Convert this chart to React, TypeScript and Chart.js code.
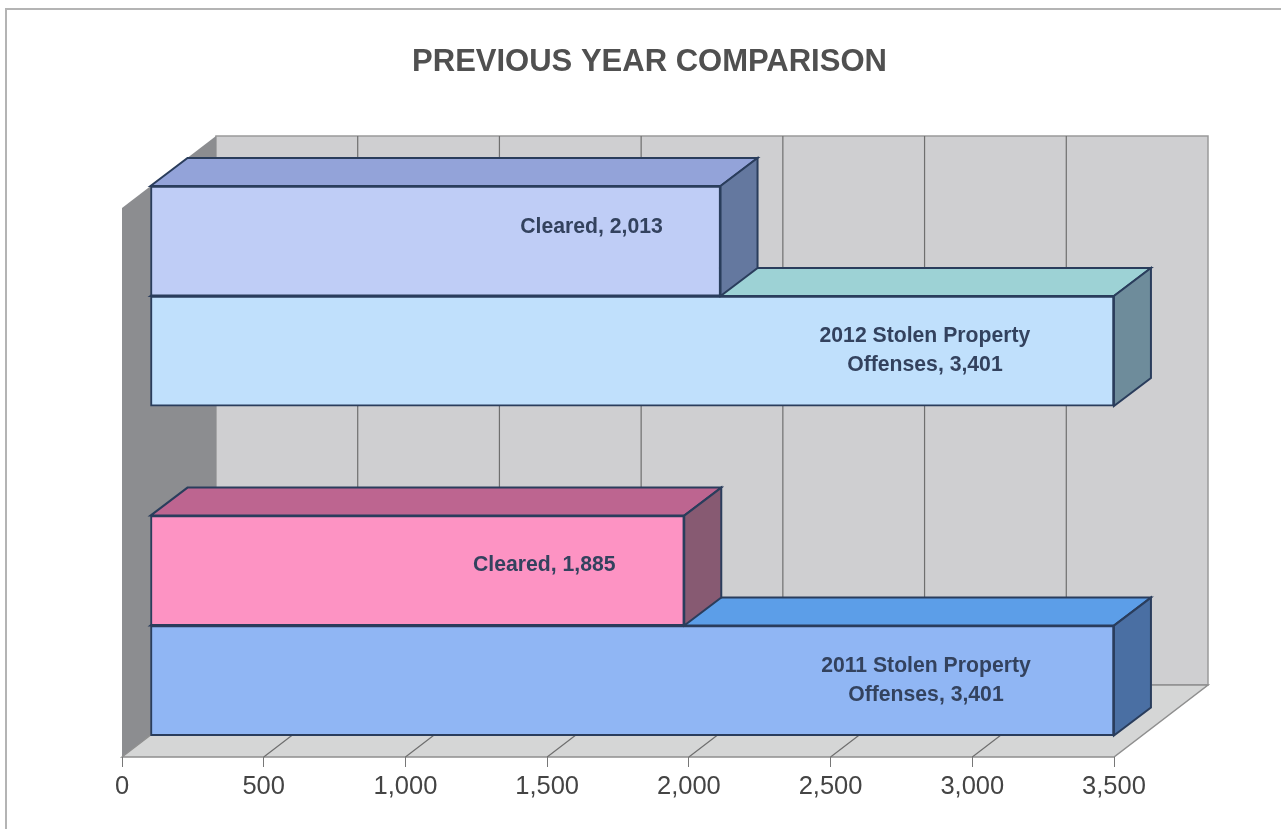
import React, { useEffect, useRef } from "react";
import { Chart, registerables } from "chart.js";

Chart.register(...registerables);

const years = ["2012", "2011"];
const yearSlots = [0, 1];
const clearedValues = [2013, 1885];
const offenseValues = [3401, 3401];
const clearedLabels = [["Cleared, 2,013"], ["Cleared, 1,885"]];
const offenseLabels = [
  ["2012 Stolen Property", "Offenses, 3,401"],
  ["2011 Stolen Property", "Offenses, 3,401"],
];
const titleText = "PREVIOUS YEAR COMPARISON";

const clearedFront = ["#bfcdf6", "#fd93c3"];
const clearedTop = ["#93a3d9", "#bd6590"];
const clearedSide = ["#64789f", "#875a72"];
const offenseFront = ["#c0e0fc", "#90b6f4"];
const offenseTop = ["#9dd2d5", "#5c9ee8"];
const offenseSide = ["#6e8c9b", "#4a6fa3"];
const labelShifts = [
  [{ x: -129, y: -14 }, { x: -140, y: -5 }],
  [{ x: -189, y: 0 }, { x: -188, y: 0 }],
];

const WALL = { dx: 94, dy: -72 };
const BAR_SHIFT = { dx: 28, dy: -22 };
const BAR_DEPTH = { dx: 37, dy: -28 };
const OUTLINE = "#2a3d5c";

function poly(ctx: CanvasRenderingContext2D, pts: number[][], fill: string, stroke?: string, lw = 1) {
  ctx.beginPath();
  pts.forEach((p, i) => (i ? ctx.lineTo(p[0], p[1]) : ctx.moveTo(p[0], p[1])));
  ctx.closePath();
  ctx.fillStyle = fill;
  ctx.fill();
  if (stroke) {
    ctx.strokeStyle = stroke;
    ctx.lineWidth = lw;
    ctx.stroke();
  }
}

const box3d = {
  id: "box3d",
  beforeDraw(chart: any) {
    const { ctx, chartArea: a, scales } = chart;
    const { left: l, right: r, top: t, bottom: b } = a;
    const { dx, dy } = WALL;
    ctx.save();
    ctx.fillStyle = "#ffffff";
    ctx.fillRect(0, 0, chart.width, chart.height);
    ctx.strokeStyle = "#b4b4b4";
    ctx.lineWidth = 2;
    ctx.beginPath();
    ctx.moveTo(6, chart.height);
    ctx.lineTo(6, 9);
    ctx.lineTo(chart.width, 9);
    ctx.stroke();
    poly(ctx, [[l + dx, t + dy], [r + dx, t + dy], [r + dx, b + dy], [l + dx, b + dy]], "#cfcfd1", "#9a9a9a", 1.5);
    poly(ctx, [[l, t], [l + dx, t + dy], [l + dx, b + dy], [l, b]], "#8c8d90");
    poly(ctx, [[l, b], [l + dx, b + dy], [r + dx, b + dy], [r, b]], "#d5d6d6", "#8f8f8f", 1.5);
    ctx.strokeStyle = "#6f6f6f";
    ctx.lineWidth = 1.2;
    scales.x.ticks.forEach((tk: any) => {
      const x = scales.x.getPixelForValue(tk.value);
      ctx.beginPath();
      if (tk.value > 0 && tk.value < 3500) {
        ctx.moveTo(x + dx, t + dy);
        ctx.lineTo(x + dx, b + dy);
        ctx.moveTo(x + dx, b + dy);
        ctx.lineTo(x, b);
      }
      ctx.stroke();
    });
    ctx.restore();
  },
  beforeDatasetDraw(chart: any, args: any) {
    const { ctx } = chart;
    const top = args.index === 0 ? clearedTop : offenseTop;
    const side = args.index === 0 ? clearedSide : offenseSide;
    ctx.save();
    ctx.translate(BAR_SHIFT.dx, BAR_SHIFT.dy);
    args.meta.data.forEach((el: any, i: number) => {
      const p = el.getProps(["x", "y", "base", "height"], true);
      const x0 = p.base, x1 = p.x, y0 = p.y - p.height / 2, y1 = p.y + p.height / 2;
      const { dx, dy } = BAR_DEPTH;
      poly(ctx, [[x0, y0], [x0 + dx, y0 + dy], [x1 + dx, y0 + dy], [x1, y0]], top[i], OUTLINE, 2);
      poly(ctx, [[x1, y0], [x1 + dx, y0 + dy], [x1 + dx, y1 + dy], [x1, y1]], side[i], OUTLINE, 2);
    });
  },
  afterDatasetDraw(chart: any) {
    chart.ctx.restore();
  },
  afterDatasetsDraw(chart: any) {
    const { ctx } = chart;
    ctx.save();
    ctx.font = "bold 21.2px 'Liberation Sans'";
    ctx.fillStyle = "#33425e";
    ctx.textAlign = "center";
    ctx.textBaseline = "middle";
    [clearedLabels, offenseLabels].forEach((set, ds) => {
      chart.getDatasetMeta(ds).data.forEach((el: any, i: number) => {
        const lines = set[i];
        const s = labelShifts[ds][i];
        const cx = el.x + BAR_SHIFT.dx + s.x;
        const cy = el.y + BAR_SHIFT.dy + s.y;
        lines.forEach((ln, k) => ctx.fillText(ln, cx, cy + (k - (lines.length - 1) / 2) * 29));
      });
    });
    ctx.restore();
  },
};

export default function App() {
  const ref = useRef<HTMLCanvasElement>(null);
  useEffect(() => {
    const chart = new Chart(ref.current!, {
      type: "bar",
      data: {
        labels: years,
        datasets: [
          {
            label: "Cleared",
            data: yearSlots.map((y, i) => ({ x: clearedValues[i], y })),
            backgroundColor: clearedFront,
            borderColor: OUTLINE,
            borderWidth: 2,
            borderSkipped: false,
            barThickness: 110,
            clip: false,
          },
          {
            label: "Stolen Property Offenses",
            data: yearSlots.map((y, i) => ({ x: offenseValues[i], y })),
            backgroundColor: offenseFront,
            borderColor: OUTLINE,
            borderWidth: 2,
            borderSkipped: false,
            barThickness: 110,
            clip: false,
          },
        ] as any,
      },
      options: {
        indexAxis: "y",
        responsive: false,
        animation: false,
        layout: { padding: { left: 18, right: 0, top: 0, bottom: 0 } },
        plugins: {
          legend: { display: false },
          tooltip: { enabled: false },
          title: {
            display: true,
            text: titleText,
            color: "#505050",
            font: { family: "'Liberation Sans'", size: 31, weight: "bold", lineHeight: 1.2 },
            padding: { top: 44, bottom: 126.8 },
          },
        },
        scales: {
          x: {
            type: "linear",
            min: 0,
            max: 3500,
            offset: false,
            ticks: {
              stepSize: 500,
              color: "#444444",
              font: { family: "'Liberation Sans'", size: 25.5 },
              padding: 5,
              maxRotation: 0,
              callback: (v: any) => Number(v).toLocaleString("en-US"),
            },
            grid: { drawOnChartArea: false, drawTicks: true, tickLength: 10, color: "#777777", offset: false },
            border: { display: false },
            afterFit: (s: any) => { s.height = 72; },
          },
          y: {
            type: "linear",
            reverse: true,
            min: -0.334,
            max: 1.332,
            offset: false,
            ticks: { display: false },
            grid: { display: false },
            border: { display: false },
            afterFit: (s: any) => { s.width = 104; },
          },
          pad: {
            axis: "y",
            type: "linear",
            position: "right",
            ticks: { display: false },
            grid: { display: false },
            border: { display: false },
            afterFit: (s: any) => { s.width = 167; },
          },
        },
      } as any,
      plugins: [box3d],
    });
    return () => chart.destroy();
  }, []);
  return (
    <canvas
      ref={ref}
      width={1281}
      height={829}
      style={{ position: "fixed", left: 0, top: 0, display: "block" }}
    />
  );
}
